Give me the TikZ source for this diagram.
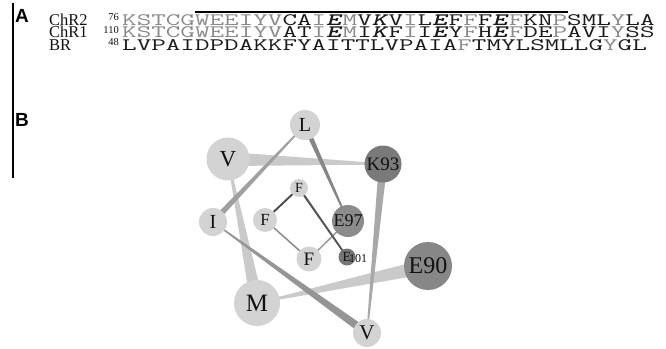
\documentclass[tikz,border=0pt]{standalone}
\usepackage{fontspec}
\usepackage{graphicx}
\setmainfont{Liberation Serif}
\newfontfamily\labfont{Liberation Sans}
\usetikzlibrary{calc}
\pgfdeclarelayer{back}
\pgfdeclarelayer{bg}
\pgfsetlayers{back,bg,main}
\definecolor{seqgray}{HTML}{8A8A8A}
\definecolor{reslight}{HTML}{D3D3D3}
\definecolor{resdarkA}{HTML}{878787}
\definecolor{resdarkB}{HTML}{7A7A7A}
\definecolor{resdarkC}{HTML}{8C8C8C}
\definecolor{resdarkD}{HTML}{767676}
\definecolor{wlight}{HTML}{CACACA}
\definecolor{wmidA}{HTML}{A8A8A8}
\definecolor{wmidB}{HTML}{959595}
\definecolor{wmidC}{HTML}{A0A0A0}
\definecolor{wdarkA}{HTML}{868686}
\definecolor{wdarkB}{HTML}{9A9A9A}
\definecolor{wdarkC}{HTML}{8A8A8A}
\definecolor{wdarkD}{HTML}{4A4A4A}
\definecolor{wdarkE}{HTML}{555555}
\newcommand\gr[1]{\textcolor{seqgray}{#1}}
\newcommand\bi[1]{\textbf{\textit{#1}}}
\newcommand\seqline[1]{\scalebox{1.617}[1]{\ttfamily\fontsize{17.5}{17.5}\selectfont\addfontfeature{FakeBold=1.2}#1}}
% wedge connector: from node #1 (half width #3) to node #2 (half width #4), colour #5
\newcommand\wedgeconn[5]{%
  \fill[#5] ($(#1)!#3!90:(#2)$) -- ($(#2)!#4!-90:(#1)$) --
            ($(#2)!#4!90:(#1)$) -- ($(#1)!#3!-90:(#2)$) -- cycle;}
\tikzset{
  resfs/.style={font=\fontsize{#1}{#1}\selectfont},
  res/.style={circle, fill=reslight, inner sep=0pt, text=black!93},
  seqrow/.style={inner sep=0pt, anchor=base west, text=black!90},
  rowlab/.style={inner sep=0pt, anchor=base west, text=black!93,
                 font=\fontsize{16.5}{16.5}\selectfont},
  rownum/.style={inner sep=0pt, anchor=base east, text=black!93,
                 font=\fontsize{10.5}{10.5}\selectfont},
  panellab/.style={inner sep=0pt, anchor=base west, text=black,
                 font=\labfont\bfseries\fontsize{19}{19}\selectfont},
}
\begin{document}
\begin{tikzpicture}[x=1pt,y=-1pt]
\begin{pgfonlayer}{back}
\fill[white] (0,0) rectangle (666,348);
\end{pgfonlayer}
\useasboundingbox (0,0) rectangle (666,348);

% panel frame line and labels
\coordinate (ruletop) at (13,3);
\coordinate (rulebot) at (13,178);
\draw[line width=1.2pt, black] (ruletop) -- (rulebot);
\node[panellab] (labA) at (15,23) {A};
\node[panellab] (labB) at (15,126) {B};

% sequences
\node[rowlab] (nChR2) at (49,25) {ChR2};
\node[rowlab] (nChR1) at (49,37.5) {ChR1};
\node[rowlab] (nBR)   at (49,50) {BR};
\node[rownum] (num76)  at (119,20.5) {76};
\node[rownum] (num110) at (119,33) {110};
\node[rownum] (num48)  at (119,45.5) {48};
\node[seqrow] (s1) at (122,25) {\seqline{\gr{KSTCGWEEIYV}CA\gr{I}\bi{E}\gr{M}V\bi{K}V\gr{I}L\bi{E}F\gr{F}F\bi{E}\gr{F}KN\gr{P}SML\gr{Y}LA}};
\node[seqrow] (s2) at (122,37.5) {\seqline{\gr{KSTCGWEEIYV}AT\gr{I}\bi{E}\gr{M}I\bi{K}F\gr{I}I\bi{E}Y\gr{F}H\bi{E}\gr{F}DE\gr{P}AVI\gr{Y}SS}};
\node[seqrow] (s3) at (122,50) {\seqline{LVPAIDPDAKKFYAITTLVPAIA\gr{F}TMYLSMLLG\gr{Y}GL}};
\coordinate (barL) at (195,11.5);
\coordinate (barR) at (568,11.5);
\draw[line width=2pt, black] (barL) -- (barR);

% helical wheel residues
\node[res, fill=resdarkA, minimum size=48pt, resfs=24] (e90)  at (428,266) {E90};
\node[res, minimum size=46pt, resfs=25] (m91)  at (257,303) {M};
\node[res, minimum size=43pt, resfs=23] (v92)  at (228,159) {V};
\node[res, fill=resdarkB, minimum size=37pt, resfs=19] (k93)  at (383,164) {K93};
\node[res, minimum size=28pt, resfs=21] (v94)  at (367,333) {V};
\node[res, minimum size=28pt, resfs=20] (i95)  at (213,222) {I};
\node[res, minimum size=30pt, resfs=20] (l96)  at (305,125) {L};
\node[res, fill=resdarkC, minimum size=32pt, resfs=18] (e97)  at (348,221) {E97};
\node[res, minimum size=25pt, resfs=19] (f98)  at (309,259) {F};
\node[res, minimum size=24pt, resfs=17] (f99)  at (265,220) {F};
\node[res, minimum size=18pt, resfs=14] (f100) at (299,188) {F};
\node[res, fill=resdarkD, minimum size=17pt, resfs=14] (e101) at (347,257) {E};
\node[inner sep=0pt, anchor=base west, resfs=12, text=black!93] (e101num) at (349,262) {101};

% connectors (behind residues)
\begin{pgfonlayer}{bg}
\wedgeconn{e90}{m91}{7.5pt}{0.5pt}{wlight}
\wedgeconn{m91}{v92}{6.5pt}{0.6pt}{wlight}
\wedgeconn{v92}{k93}{7pt}{0.6pt}{wlight}
\wedgeconn{k93}{v94}{4.2pt}{0.6pt}{wmidA}
\wedgeconn{v94}{i95}{4.2pt}{0.5pt}{wmidB}
\wedgeconn{i95}{l96}{3pt}{0.6pt}{wmidC}
\wedgeconn{l96}{e97}{2.6pt}{0.7pt}{wdarkA}
\wedgeconn{e97}{f98}{0.8pt}{0.7pt}{wdarkB}
\wedgeconn{f98}{f99}{0.8pt}{0.7pt}{wdarkC}
\wedgeconn{f99}{f100}{1pt}{0.9pt}{wdarkD}
\wedgeconn{f100}{e101}{1.1pt}{0.9pt}{wdarkE}
\end{pgfonlayer}
\end{tikzpicture}
\end{document}
